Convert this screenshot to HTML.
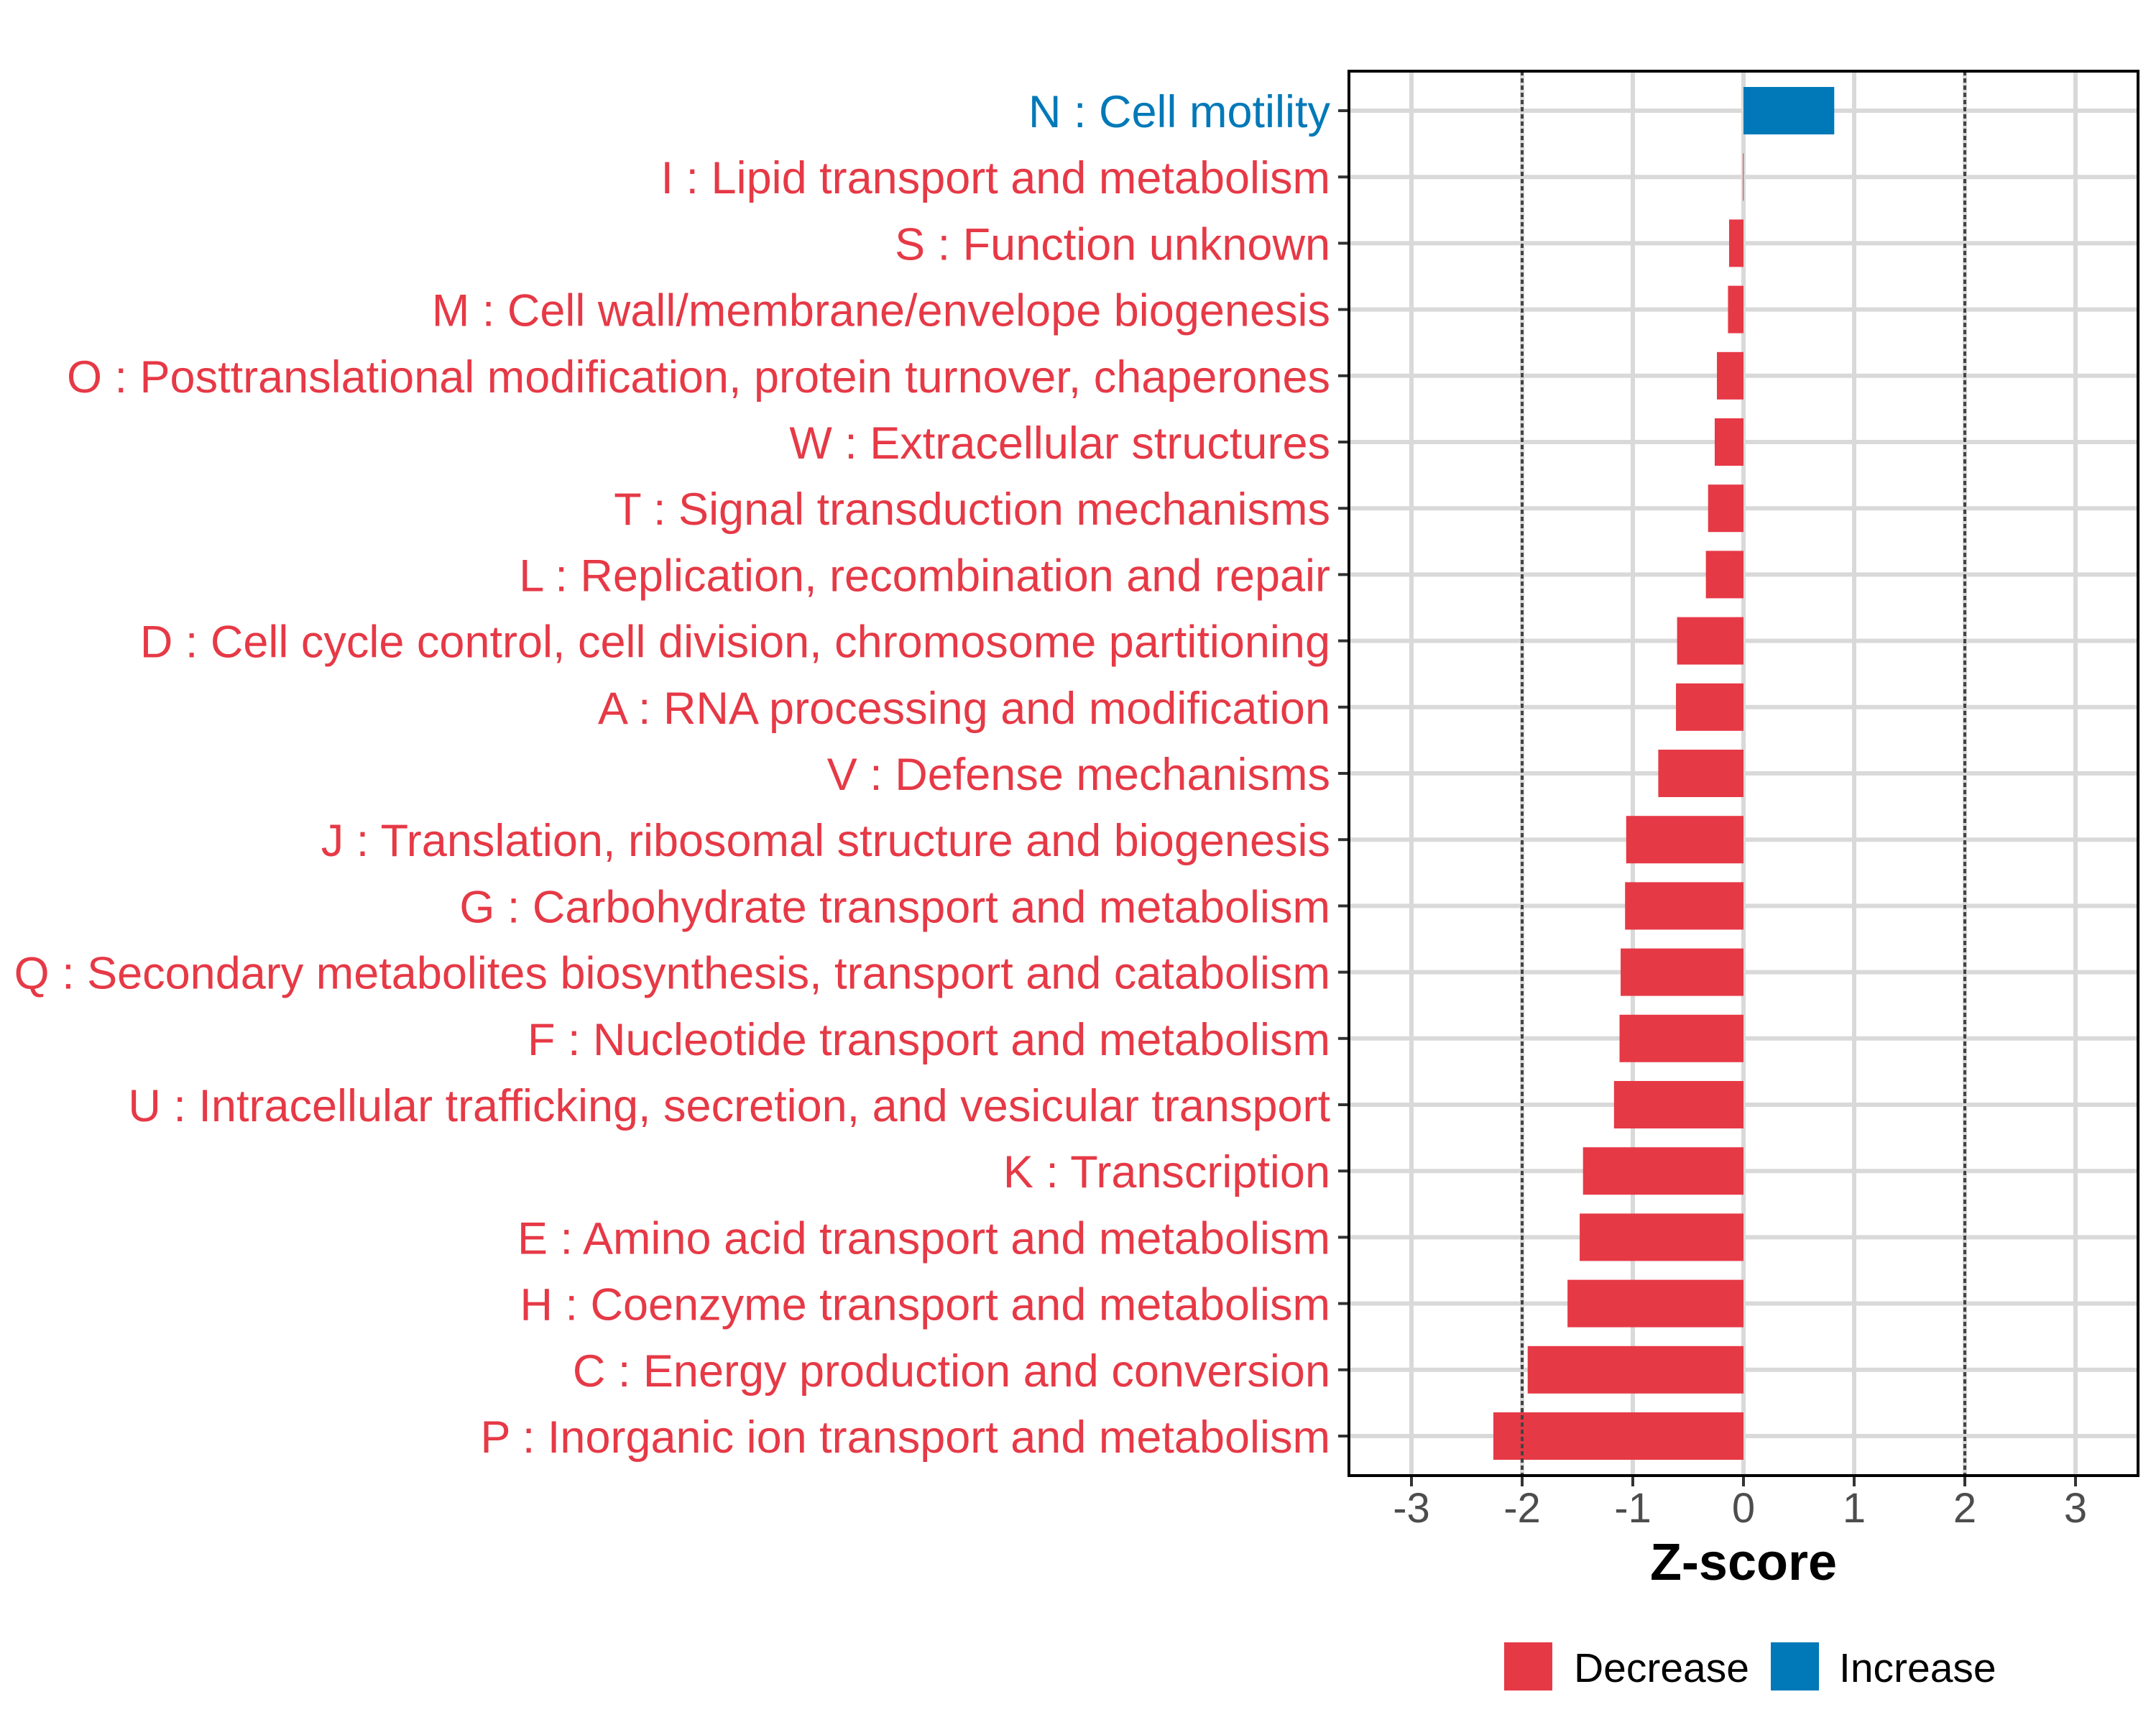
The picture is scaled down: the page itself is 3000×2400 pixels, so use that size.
<!DOCTYPE html>
<html><head><meta charset="utf-8"><style>
html,body{margin:0;padding:0;background:#fff}
svg{display:block}
text{font-family:"Liberation Sans",sans-serif}
</style></head><body>
<svg id="chart" width="3000" height="2400" viewBox="0 0 3000 2400" xmlns="http://www.w3.org/2000/svg">
<g id="grid"></g>
<g id="bars"></g>
<g id="ylabels"></g>
<g id="xaxis"></g>
<text x="2426" y="2198" text-anchor="middle" font-size="72" font-weight="bold" fill="#000">Z-score</text>
<g>
<rect x="2093" y="2285" width="67" height="67" fill="#e63946"/>
<text x="2190" y="2340" font-size="57" fill="#000">Decrease</text>
<rect x="2464" y="2285" width="67" height="67" fill="#0179b8"/>
<text x="2559" y="2340" font-size="57" fill="#000">Increase</text>
</g>
</svg>
<script>
const categories = ["N : Cell motility","I : Lipid transport and metabolism","S : Function unknown","M : Cell wall/membrane/envelope biogenesis","O : Posttranslational modification, protein turnover, chaperones","W : Extracellular structures","T : Signal transduction mechanisms","L : Replication, recombination and repair","D : Cell cycle control, cell division, chromosome partitioning","A : RNA processing and modification","V : Defense mechanisms","J : Translation, ribosomal structure and biogenesis","G : Carbohydrate transport and metabolism","Q : Secondary metabolites biosynthesis, transport and catabolism","F : Nucleotide transport and metabolism","U : Intracellular trafficking, secretion, and vesicular transport","K : Transcription","E : Amino acid transport and metabolism","H : Coenzyme transport and metabolism","C : Energy production and conversion","P : Inorganic ion transport and metabolism"];
const zscores = [0.82,-0.005,-0.13,-0.14,-0.24,-0.26,-0.32,-0.34,-0.60,-0.61,-0.77,-1.06,-1.07,-1.11,-1.12,-1.17,-1.45,-1.48,-1.59,-1.95,-2.26];
const xTicks = [-3,-2,-1,0,1,2,3];
const xTickLabels = ["-3","-2","-1","0","1","2","3"];
const thresholds = [-2,2];

const NS="http://www.w3.org/2000/svg";
const L=1877,R=2975,T=99,B=2053;
const x0=2426,unit=154;
const xs=v=>x0+v*unit;
const rowTop=154,rowStep=92.2;
const ys=i=>rowTop+i*rowStep;
const bw=66;
const RED="#e63946",BLUE="#0179b8";
function mk(tag,attrs,parent){const e=document.createElementNS(NS,tag);for(const k in attrs)e.setAttribute(k,attrs[k]);parent.appendChild(e);return e;}
const grid=document.getElementById('grid'),bars=document.getElementById('bars'),yl=document.getElementById('ylabels'),xa=document.getElementById('xaxis');
const svg=document.getElementById('chart');
const bg=mk('rect',{x:L,y:T,width:R-L,height:B-T,fill:'#fff'},grid);


xTicks.forEach((t,i)=>{
 const g=mk('line',{x1:xs(t),x2:xs(t),y1:T,y2:B,stroke:'#d9d9d9','stroke-width':6},grid);
 
 
 const tk=mk('line',{x1:xs(t),x2:xs(t),y1:B,y2:B+15,stroke:'#333','stroke-width':4},xa);
 
 
 const tl=mk('text',{x:xs(t),y:2118,'text-anchor':'middle','font-size':58,fill:'#4d4d4d'},xa);
 tl.textContent=xTickLabels[i];
 
 
});
categories.forEach((c,i)=>{
 const g=mk('line',{x1:L,x2:R,y1:ys(i),y2:ys(i),stroke:'#d9d9d9','stroke-width':6},grid);
 
 
});
thresholds.forEach(t=>{
 const d=mk('line',{x1:xs(t),x2:xs(t),y1:T,y2:B,stroke:'#444','stroke-width':4,'stroke-dasharray':'6 4'},svg);
 
 
});
categories.forEach((c,i)=>{
 const v=zscores[i];
 const x1=Math.min(xs(0),xs(v)),w=Math.max(Math.abs(xs(v)-xs(0)),1);
 const col=v>0?BLUE:RED;
 const r=mk('rect',{x:x1,y:ys(i)-bw/2,width:w,height:bw,fill:col},bars);
 
 
 const tk=mk('line',{x1:L-15,x2:L,y1:ys(i),y2:ys(i),stroke:'#333','stroke-width':4},yl);
 
 
 const t=mk('text',{x:1851,y:ys(i)+23,'text-anchor':'end','font-size':63,fill:col},yl);
 t.textContent=c;
 
 
});
const fr=mk('rect',{x:L,y:T,width:R-L,height:B-T,fill:'none',stroke:'#000','stroke-width':4},svg);


</script>
</body></html>
